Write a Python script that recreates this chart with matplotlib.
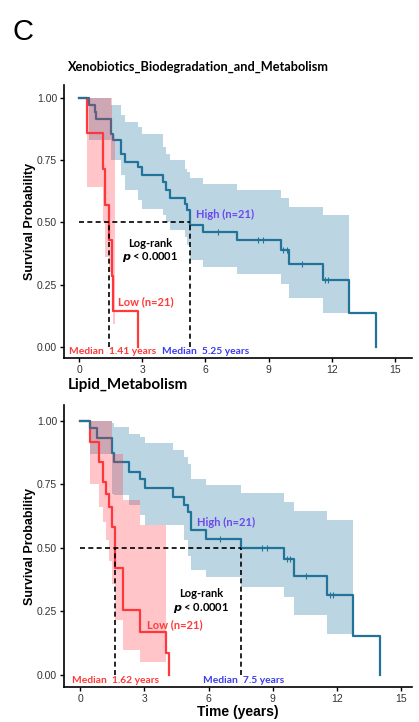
import numpy as np
import matplotlib
matplotlib.use("Agg")
from matplotlib import pyplot as plt

# ---- Xenobiotics panel ----
xeno_low_t = [0, 0.40, 1.16, 1.25, 1.41, 1.55, 1.63, 2.80]
xeno_low_s = [1.0, 0.857, 0.714, 0.571, 0.429, 0.286, 0.143, 0.0]
xeno_low_ci_t = [0.40, 1.16, 1.25, 1.41, 1.55, 1.63, 1.72]
xeno_low_ci_lo = [0.64, 0.50, 0.36, 0.30, 0.14, 0.09, 0.09]
xeno_low_ci_hi = [1.0, 1.0, 1.0, 1.0, 0.85, 0.85, 0.85]

xeno_high_t = [0, 0.49, 0.76, 0.81, 1.50, 1.60, 1.98, 2.18, 2.82, 2.97, 4.00, 4.13,
               4.32, 5.03, 5.14, 5.25, 5.90, 7.48, 9.57, 9.98, 11.60, 12.81, 14.08]
xeno_high_s = [1.0, 0.97, 0.942, 0.916, 0.856, 0.832, 0.775, 0.742, 0.722, 0.688, 0.662, 0.628,
               0.599, 0.575, 0.548, 0.49, 0.46, 0.428, 0.39, 0.334, 0.267, 0.136, 0.0]
xeno_high_cens = [6.61, 8.51, 8.72, 9.70, 9.85, 10.57, 11.68, 11.83]
xeno_high_ci_t = [0.49, 1.50, 1.98, 2.18, 2.82, 2.97, 4.00, 4.13, 4.32, 5.03, 5.14, 5.25,
                  5.90, 7.48, 9.57, 9.98, 11.60, 12.81]
xeno_high_ci_hi = [1.0, 0.969, 0.929, 0.902, 0.882, 0.856, 0.802, 0.775, 0.749, 0.715, 0.70, 0.679,
                   0.655, 0.628, 0.598, 0.561, 0.528, 0.528]
xeno_high_ci_lo = [0.83, 0.75, 0.69, 0.63, 0.59, 0.555, 0.53, 0.50, 0.47, 0.44, 0.41, 0.348,
                   0.321, 0.294, 0.254, 0.198, 0.136, 0.136]

# ---- Lipid panel ----
lipid_low_t = [0, 0.47, 0.86, 1.09, 1.21, 1.37, 1.48, 1.62, 1.99, 2.80, 4.02, 4.13]
lipid_low_s = [1.0, 0.917, 0.839, 0.76, 0.714, 0.662, 0.583, 0.42, 0.256, 0.17, 0.085, 0.0]
lipid_low_ci_t = [0.47, 0.86, 1.09, 1.21, 1.37, 1.48, 1.62, 1.99, 2.80, 4.02]
lipid_low_ci_hi = [1.0, 1.0, 1.0, 1.0, 1.0, 0.87, 0.87, 0.69, 0.59, 0.59]
lipid_low_ci_lo = [0.75, 0.66, 0.60, 0.53, 0.45, 0.36, 0.216, 0.10, 0.05, 0.05]

lipid_high_t = [0, 0.47, 0.78, 1.48, 1.60, 2.26, 2.80, 3.04, 4.36, 4.85, 5.06, 5.20, 5.88,
                7.50, 9.53, 9.97, 11.53, 12.77, 14.02]
lipid_high_s = [1.0, 0.97, 0.931, 0.872, 0.836, 0.80, 0.77, 0.735, 0.70, 0.67, 0.64, 0.57, 0.536,
                0.50, 0.455, 0.389, 0.313, 0.155, 0.0]
lipid_high_cens = [6.54, 8.49, 8.72, 9.66, 9.81, 10.56, 11.68, 11.83]
lipid_high_ci_t = [0.47, 1.48, 1.60, 2.26, 2.80, 3.04, 4.36, 4.85, 5.06, 5.20, 5.88, 7.50,
                   9.53, 9.97, 11.53, 12.77]
lipid_high_ci_hi = [1.0, 0.99, 0.976, 0.95, 0.937, 0.911, 0.885, 0.858, 0.83, 0.773, 0.747, 0.715,
                    0.682, 0.645, 0.61, 0.61]
lipid_high_ci_lo = [0.87, 0.714, 0.708, 0.668, 0.629, 0.59, 0.59, 0.53, 0.47, 0.413, 0.387, 0.347,
                    0.308, 0.236, 0.161, 0.161]

RED = "#ff3a3a"
BLUE = "#22739a"
TXT_BLUE = "#3a3cf0"
HIGH_LBL = "#6b48f0"

fig = plt.figure(figsize=(4.19, 7.22), dpi=100)
fig.text(0.03, 0.975, "C", fontsize=21, family="Liberation Sans", va="top", ha="left")


def step_value(ts, ss, x):
    idx = np.searchsorted(ts, x, side="right") - 1
    return ss[idx]


def panel(ax, title, title_size, low, high, med_low, med_high, txt):
    (lt, ls, lct, lclo, lchi) = low
    (ht, hs, hcens, hct, hchi, hclo) = high
    ax.fill_between(hct, hclo, hchi, step="post", color="#2e7ea6", alpha=0.32, lw=0, zorder=1)
    ax.step(lt, ls, where="post", color=RED, lw=1.6, zorder=2)
    ax.step(ht, hs, where="post", color=BLUE, lw=1.6, zorder=2)
    cy = [step_value(ht, hs, c) for c in hcens]
    ax.plot(hcens, cy, ls="none", marker="|", ms=4, mew=0.8, color=BLUE, zorder=2)
    ax.fill_between(lct, lclo, lchi, step="post", color="#ff3040", alpha=0.28, lw=0, zorder=3)

    dash = dict(color="black", lw=1.2, ls=(0, (3, 2)), zorder=4)
    ax.plot([0, med_high], [0.5, 0.5], **dash)
    ax.plot([med_low, med_low], [0, 0.5], **dash)
    ax.plot([med_high, med_high], [0, 0.5], **dash)

    ax.set_xlim(txt["xlim"])
    ax.set_ylim(txt["ylim"])
    ax.set_xticks([0, 3, 6, 9, 12, 15])
    ax.set_yticks([0, 0.25, 0.5, 0.75, 1.0])
    ax.set_yticklabels(["0.00", "0.25", "0.50", "0.75", "1.00"])
    for s in ["top", "right"]:
        ax.spines[s].set_visible(False)
    for s in ["left", "bottom"]:
        ax.spines[s].set_linewidth(1.2)
    ax.tick_params(length=3, width=1, labelsize=7.5, colors="#333333", pad=2)
    for lab in ax.get_xticklabels() + ax.get_yticklabels():
        lab.set_family("Liberation Sans")
    ax.tick_params(color="black")
    ax.set_ylabel("Survival Probability", fontsize=9, fontweight="bold",
                  family="Liberation Sans", labelpad=1)
    ax.text(0.01, 1.045, title, transform=ax.transAxes, fontsize=title_size,
            fontweight="bold", family="Lato", ha="left", va="bottom")

    bold = dict(fontweight="bold", family="Lato", fontsize=8)
    small = dict(fontweight="bold", family="Lato", fontsize=7.4)
    ax.text(txt["ml"][0], txt["ml"][1], "Median  %s years" % txt["mlv"], color=RED,
            ha="left", va="center", **small)
    ax.text(txt["mh"][0], txt["mh"][1], "Median  %s years" % txt["mhv"], color=TXT_BLUE,
            ha="left", va="center", **small)
    ax.text(txt["hi"][0], txt["hi"][1], "High (n=21)", color=HIGH_LBL,
            ha="left", va="center", **bold)
    ax.text(txt["lo"][0], txt["lo"][1], "Low (n=21)", color=RED,
            ha="left", va="center", **bold)
    ax.text(txt["lr"][0], txt["lr"][1], "Log-rank", color="black",
            ha="center", va="center", **bold)
    ax.text(txt["lr"][0], txt["lr"][1] - 0.055, r"$\bfit{p}$ < 0.0001", color="black",
            ha="center", va="center", **bold)


ax1 = fig.add_axes([0.153, 0.504, 0.830, 0.378])
panel(ax1, "Xenobiotics_Biodegradation_and_Metabolism", 9.2,
      (xeno_low_t, xeno_low_s, xeno_low_ci_t, xeno_low_ci_lo, xeno_low_ci_hi),
      (xeno_high_t, xeno_high_s, xeno_high_cens, xeno_high_ci_t, xeno_high_ci_hi, xeno_high_ci_lo),
      1.41, 5.25,
      dict(xlim=(-0.71, 15.8), ylim=(-0.045, 1.05),
           ml=(-0.5, -0.02), mlv="1.41", mh=(3.94, -0.02), mhv="5.25",
           hi=(5.56, 0.53), lo=(1.85, 0.18), lr=(3.37, 0.416)))

ax2 = fig.add_axes([0.153, 0.0485, 0.830, 0.3905])
panel(ax2, "Lipid_Metabolism", 11,
      (lipid_low_t, lipid_low_s, lipid_low_ci_t, lipid_low_ci_lo, lipid_low_ci_hi),
      (lipid_high_t, lipid_high_s, lipid_high_cens, lipid_high_ci_t, lipid_high_ci_hi, lipid_high_ci_lo),
      1.62, 7.5,
      dict(xlim=(-0.75, 15.5), ylim=(-0.047, 1.062),
           ml=(-0.4, -0.02), mlv="1.62", mh=(5.73, -0.02), mhv="7.5",
           hi=(5.47, 0.60), lo=(3.13, 0.20), lr=(5.65, 0.32)))
ax2.set_xlabel("Time (years)", fontsize=10, fontweight="bold", family="Liberation Sans", labelpad=1)

fig.savefig("out.png", dpi=100)
